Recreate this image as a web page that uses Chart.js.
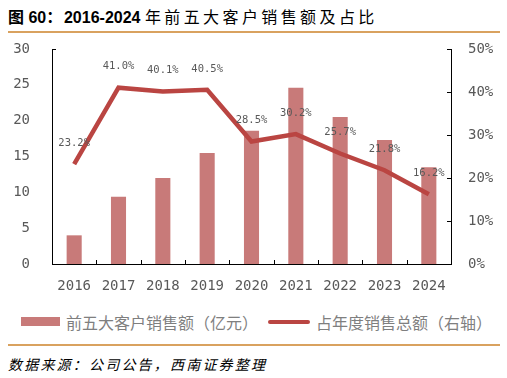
<!DOCTYPE html>
<html><head><meta charset="utf-8">
<script src="https://cdn.jsdelivr.net/npm/chart.js@4.4.0/dist/chart.umd.min.js"></script>
<style>
html,body{margin:0;padding:0;background:#fff;width:507px;height:378px;overflow:hidden;position:relative;font-family:"Noto Sans CJK SC",sans-serif;}
#title{position:absolute;left:8px;top:4px;font-size:16px;font-weight:bold;color:#000;white-space:nowrap;font-family:"Liberation Sans","Noto Sans CJK SC",sans-serif;}
#title .cjk{letter-spacing:1.7px;font-family:"Noto Sans CJK SC",sans-serif;}
#title .thin{font-weight:normal;letter-spacing:3.4px;}
.rule{position:absolute;left:8px;width:492px;height:2px;background:#D9A25F;}
#wrap{position:absolute;left:0;top:0;width:507px;height:300px;}
#legend{position:absolute;top:312px;left:0;width:507px;height:20px;font-size:16px;color:#7f7f7f;white-space:nowrap;}
.sw{position:absolute;}
.lt{position:absolute;top:0;line-height:20px;}
#src{position:absolute;left:8px;top:354px;font-size:14px;font-style:italic;letter-spacing:2.2px;color:#000;white-space:nowrap;}
</style></head>
<body>
<div id="title">图 60<span class="cjk">：</span>2016-2024 <span class="cjk thin">年前五大客户销售额及占比</span></div>
<div class="rule" style="top:31px"></div>
<div id="wrap"><canvas id="c" width="507" height="300"></canvas></div>
<div id="legend">
  <div class="sw" style="left:21px;top:5px;width:39px;height:9px;background:#C87A79"></div>
  <div class="lt" id="l1" style="left:66px"></div>
  <div class="sw" style="left:268px;top:8px;width:42px;height:4px;background:#BA4542;border-radius:2px"></div>
  <div class="lt" id="l2" style="left:316px"></div>
</div>
<div class="rule" style="top:344px"></div>
<div id="src">数据来源：公司公告，西南证券整理</div>
<script>
const years = ['2016','2017','2018','2019','2020','2021','2022','2023','2024'];
const salesTop5 = [4.0, 9.4, 12.0, 15.5, 18.6, 24.6, 20.5, 17.3, 13.5];
const shareTop5 = [23.2, 41.0, 40.1, 40.5, 28.5, 30.2, 25.7, 21.8, 16.2];
const seriesNames = ['前五大客户销售额（亿元）', '占年度销售总额（右轴）'];

document.getElementById('l1').textContent = seriesNames[0];
document.getElementById('l2').textContent = seriesNames[1];

const mono = '"DejaVu Sans Mono", monospace';
const tickColor = '#595959';

const labelPlugin = {
  id: 'pctLabels',
  afterDatasetsDraw(chart) {
    const ctx = chart.ctx;
    const meta = chart.getDatasetMeta(1);
    ctx.save();
    ctx.font = '10.5px ' + mono;
    ctx.fillStyle = '#595959';
    ctx.textAlign = 'center';
    ctx.textBaseline = 'middle';
    meta.data.forEach((pt, i) => {
      ctx.fillText(shareTop5[i].toFixed(1) + '%', pt.x, pt.y - 21);
    });
    ctx.restore();
  }
};

const tickPlugin = {
  id: 'innerTicks',
  afterDraw(chart) {
    const ctx = chart.ctx;
    const x = chart.scales.x, y = chart.scales.y, y1 = chart.scales.y1;
    ctx.save();
    ctx.strokeStyle = '#000';
    ctx.lineWidth = 1;
    ctx.beginPath();
    y1.ticks.forEach(t => {
      const py = Math.round(y1.getPixelForValue(t.value)) + 0.5;
      ctx.moveTo(y1.left, py); ctx.lineTo(y1.left - 4, py);
    });
    const pt = Math.round(y.getPixelForValue(y.max)) + 0.5;
    ctx.moveTo(y.right, pt); ctx.lineTo(y.right + 4, pt);
    for (let i = 1; i < years.length; i++) {
      const px = Math.round((x.getPixelForValue(i - 1) + x.getPixelForValue(i)) / 2) + 0.5;
      ctx.moveTo(px, x.top); ctx.lineTo(px, x.top - 4);
    }
    ctx.stroke();
    ctx.restore();
  }
};

new Chart(document.getElementById('c'), {
  data: {
    labels: years,
    datasets: [
      { type: 'bar', label: seriesNames[0], data: salesTop5, yAxisID: 'y',
        backgroundColor: '#C87A79', categoryPercentage: 1, barPercentage: 0.34, order: 2 },
      { type: 'line', label: seriesNames[1], data: shareTop5, yAxisID: 'y1',
        borderColor: '#BA4542', borderWidth: 4.5, pointRadius: 0, tension: 0, fill: false, order: 1 }
    ]
  },
  options: {
    responsive: false,
    animation: false,
    events: [],
    layout: { padding: { top: 49, left: 0, right: 0, bottom: 0 } },
    plugins: { legend: { display: false }, tooltip: { enabled: false }, title: { display: false } },
    scales: {
      x: {
        offset: true,
        grid: { display: false, drawTicks: false },
        border: { display: true, color: '#000', width: 1 },
        ticks: { color: tickColor, font: { family: mono, size: 14 }, padding: 14, maxRotation: 0 },
        afterFit(s) { s.height = 36; }
      },
      y: {
        position: 'left', min: 0, max: 30,
        grid: { display: false, drawTicks: false },
        border: { display: true, color: '#000', width: 1 },
        ticks: { stepSize: 5, color: tickColor, font: { family: mono, size: 14 }, padding: 22 },
        afterFit(s) { s.width = 52; }
      },
      y1: {
        position: 'right', min: 0, max: 50,
        grid: { display: false, drawTicks: false },
        border: { display: true, color: '#000', width: 1 },
        ticks: { stepSize: 10, color: tickColor, font: { family: mono, size: 14 }, padding: 17,
          callback: v => v + '%' },
        afterFit(s) { s.width = 56; }
      }
    }
  },
  plugins: [labelPlugin, tickPlugin]
});
</script>
</body></html>
